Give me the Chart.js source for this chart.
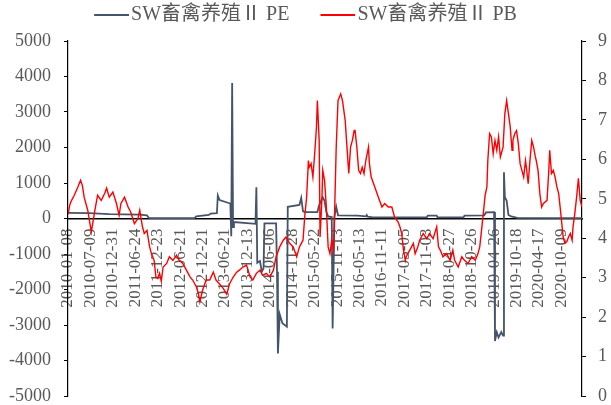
<!DOCTYPE html>
<html>
<head>
<meta charset="utf-8">
<script src="https://cdn.jsdelivr.net/npm/chart.js@4.4.0/dist/chart.umd.min.js"></script>
<style>
  html, body { margin: 0; padding: 0; background: #ffffff; }
  canvas { display: block; }
</style>
</head>
<body>
<canvas id="chart" width="611" height="405"></canvas>
<script>
// Weekly valuation of the SW livestock & poultry breeding II index (2010-01 .. 2021).
// x values are week numbers counted from 2010-01-08; a date label every 25 weeks.
const tickLabels = [
  '2010-01-08', '2010-07-09', '2010-12-31', '2011-06-24', '2011-12-23', '2012-06-21',
  '2012-12-21', '2013-06-21', '2013-12-13', '2014-06-06', '2014-11-28', '2015-05-22',
  '2015-11-13', '2016-05-13', '2016-11-11', '2017-05-05', '2017-11-03', '2018-04-27',
  '2018-10-26', '2019-04-26', '2019-10-18', '2020-04-17', '2020-10-09'
];
const WEEKS_PER_TICK = 25;
const LAST_WEEK = 573;

const seriesNames = ['SW畜禽养殖Ⅱ PE', 'SW畜禽养殖Ⅱ PB'];
const seriesColors = ['#44546A', '#FF0000'];

// PE (left axis)
const peWeeks = [
  0, 24, 46, 80, 88, 90, 93, 141, 143, 157, 159, 166, 167, 169, 180, 181, 182, 183, 184, 185,
  209, 210, 211, 214, 216, 218, 219, 232, 233, 234, 236, 239, 244, 245, 258, 260, 262, 264,
  278, 280, 284, 286, 288, 290, 294, 295, 297, 299, 301, 323, 332, 333, 334, 340, 400, 401,
  411, 412, 441, 442, 464, 466, 475, 476, 478, 480, 483, 485, 486, 487, 489, 491, 494, 501, 573
];
const peValues = [
  158, 150, 125, 110, 90, 20, 10, 10, 60, 100, 140, 150, 650, 520, 430, 420, -500, 3820, -240, -100,
  -150, 880, -1250, -1200, -1500, -1400, -140, -140, -1500, -3800, -2700, -2950, -3050, 330, 380, 580, 200, 180,
  180, 380, 600, 500, 180, 60, 40, -3100, 50, 330, 90, 80, 60, 100, 50, 30, 30, 80,
  80, 30, 30, 80, 90, 170, 180, -3450, -3200, -3350, -3200, -3300, 1300, 600, 500, 100, 60, 20, 10
];

// PB (right axis)
const pbWeeks = [
  0, 2, 4, 7, 11, 14, 16, 18, 22, 26, 30, 33, 37, 41, 43, 46, 50, 54, 57, 59,
  63, 67, 70, 74, 78, 80, 83, 85, 88, 91, 93, 96, 98, 100, 102, 104, 106, 110, 113, 117,
  121, 124, 128, 132, 136, 139, 143, 145, 147, 150, 154, 158, 162, 165, 169, 173, 177, 180, 184, 188,
  191, 195, 199, 203, 206, 210, 214, 217, 221, 225, 229, 232, 236, 240, 243, 247, 251, 255, 258, 262,
  264, 266, 268, 269, 271, 273, 275, 277, 278, 280, 281, 283, 284, 286, 288, 290, 292, 294, 296, 297,
  299, 301, 304, 306, 309, 311, 313, 315, 317, 319, 320, 322, 324, 326, 328, 330, 332, 335, 336, 338,
  342, 346, 350, 353, 357, 361, 364, 368, 370, 372, 374, 376, 377, 381, 385, 387, 390, 392, 396, 400,
  403, 407, 411, 413, 415, 418, 422, 426, 429, 431, 435, 439, 442, 446, 450, 454, 457, 459, 461, 463,
  465, 467, 468, 470, 472, 474, 476, 478, 480, 482, 485, 487, 489, 491, 493, 495, 496, 498, 500, 502,
  504, 506, 508, 510, 511, 513, 515, 517, 519, 521, 522, 524, 526, 528, 530, 534, 536, 537, 539, 541,
  543, 545, 547, 549, 552, 554, 556, 558, 560, 562, 563, 565, 567, 569, 571, 573
];
const pbValues = [
  4.60, 4.85, 4.96, 5.09, 5.30, 5.47, 5.34, 5.04, 4.71, 4.16, 4.71, 5.09, 4.96, 5.14, 5.27, 5.04, 5.17, 4.88, 4.58, 4.88,
  5.04, 4.79, 4.66, 4.37, 4.50, 4.71, 4.29, 4.12, 4.20, 3.78, 3.61, 3.44, 3.02, 2.98, 3.11, 2.91, 3.27, 3.36, 3.53, 3.44,
  3.57, 3.44, 3.36, 3.19, 3.02, 2.94, 2.77, 2.63, 2.38, 2.68, 2.94, 2.94, 3.14, 2.94, 2.84, 2.73, 2.58, 2.84, 3.01, 3.14,
  3.19, 3.27, 3.32, 3.02, 2.94, 3.11, 3.19, 3.06, 3.11, 3.02, 3.19, 3.53, 3.78, 3.95, 4.03, 3.87, 3.78, 3.53, 3.78, 3.95,
  4.58, 5.04, 5.97, 5.80, 5.89, 5.55, 6.14, 6.82, 7.49, 6.48, 4.03, 4.96, 5.72, 5.47, 4.79, 3.78, 3.61, 3.95, 3.70, 4.46,
  6.31, 7.49, 7.66, 7.49, 6.99, 6.31, 5.64, 6.31, 6.48, 6.73, 6.73, 6.31, 5.72, 5.64, 5.80, 5.64, 5.97, 6.31, 5.89, 5.55,
  5.30, 5.04, 4.79, 4.88, 4.79, 4.79, 4.54, 4.41, 4.29, 4.12, 3.70, 3.44, 3.53, 3.70, 3.87, 3.61, 3.78, 3.95, 4.12, 3.99,
  4.12, 3.99, 4.29, 3.78, 3.70, 3.53, 3.61, 3.44, 3.70, 3.44, 3.27, 3.53, 3.44, 3.36, 3.53, 3.44, 3.61, 3.78, 4.20, 4.63,
  5.09, 5.30, 5.97, 6.65, 6.57, 6.14, 6.48, 6.23, 6.57, 6.06, 6.31, 7.16, 7.49, 7.16, 6.82, 6.23, 6.48, 6.65, 6.73, 6.40,
  5.89, 5.72, 5.55, 5.97, 5.80, 5.38, 5.97, 6.48, 6.31, 6.06, 5.97, 5.72, 5.13, 4.79, 4.88, 4.96, 5.72, 6.23, 5.64, 5.72,
  5.55, 5.30, 5.13, 4.71, 4.03, 3.87, 3.91, 4.03, 4.12, 3.95, 4.29, 4.63, 5.04, 5.52, 4.96, 4.79
];

const toPoints = (xs, ys) => xs.map((x, i) => ({ x: x, y: ys[i] }));

const FONT_FAMILY = "'Liberation Serif', 'Noto Sans CJK SC', serif";
const TEXT_GREY = '#595959';

// Legend key: a 35px stroke that starts at the item's left edge and
// runs up to just before its text.
const KEY_BOX = 27, KEY_LINE = 35, LEGEND_FONT = 20;
function makeKey(color) {
  const pad = KEY_BOX / 2;                 // key is centred at x + KEY_BOX/2
  const w = Math.ceil(2 * Math.max(pad, KEY_LINE - pad));
  const c = document.createElement('canvas');
  c.width = w; c.height = 4;
  const g = c.getContext('2d');
  const x0 = w / 2 - pad;
  g.strokeStyle = color; g.lineWidth = 2;
  g.beginPath(); g.moveTo(x0, 2); g.lineTo(x0 + KEY_LINE, 2); g.stroke();
  return c;
}
const keys = seriesColors.map(makeKey);

// Lifts the legend row after layout so the plot keeps its own top edge.
const legendLift = {
  id: 'legendLift',
  afterLayout(chart, args, opts) {
    if (chart.legend) chart.legend.top += opts.dy;
  }
};

new Chart(document.getElementById('chart'), {
  type: 'line',
  data: {
    datasets: [
      {
        label: seriesNames[1],
        data: toPoints(pbWeeks, pbValues),
        yAxisID: 'y1',
        borderColor: seriesColors[1],
        backgroundColor: seriesColors[1],
        borderWidth: 1.4,
        pointRadius: 0,
        tension: 0
      },
      {
        label: seriesNames[0],
        data: toPoints(peWeeks, peValues),
        yAxisID: 'y',
        borderColor: seriesColors[0],
        backgroundColor: seriesColors[0],
        borderWidth: 1.8,
        pointRadius: 0,
        tension: 0
      }
    ]
  },
  options: {
    responsive: false,
    animation: false,
    devicePixelRatio: 1,
    layout: { padding: { top: 0, left: 0, right: 0, bottom: 0 } },
    plugins: {
      tooltip: { enabled: false },
      legend: {
        position: 'top',
        align: 'center',
        maxHeight: 41,
        labels: {
          usePointStyle: true,
          pointStyleWidth: KEY_BOX,
          padding: 31,
          color: TEXT_GREY,
          font: { family: FONT_FAMILY, size: LEGEND_FONT },
          sort: (a, b) => b.datasetIndex - a.datasetIndex,
          generateLabels: (chart) => {
            const items = Chart.defaults.plugins.legend.labels.generateLabels(chart);
            items.forEach((it) => {
              it.pointStyle = it.datasetIndex === 1 ? keys[0] : keys[1];
            });
            return items;
          }
        }
      },
      legendLift: { dy: -26 }
    },
    scales: {
      x: {
        type: 'linear',
        min: 0,
        max: LAST_WEEK,
        position: { y: 0 },
        grid: { display: false, drawTicks: false },
        border: { display: true, color: '#000000', width: 1.6 },
        ticks: {
          stepSize: WEEKS_PER_TICK,
          autoSkip: false,
          includeBounds: false,
          minRotation: 90,
          maxRotation: 90,
          padding: 10,
          color: TEXT_GREY,
          font: { family: FONT_FAMILY, size: 17 },
          callback: (v) => {
            const k = v / WEEKS_PER_TICK;
            return Number.isInteger(k) && tickLabels[k] ? tickLabels[k] : '';
          }
        }
      },
      y: {
        position: 'left',
        min: -5000,
        max: 5000,
        grid: { drawOnChartArea: false, drawTicks: true, tickLength: 4, color: '#000000' },
        border: { display: true, color: '#000000', width: 1.2 },
        ticks: {
          stepSize: 1000,
          padding: 13,
          color: TEXT_GREY,
          font: { family: FONT_FAMILY, size: 18 },
          callback: (v) => String(v)
        },
        afterFit: (s) => { s.width = 68; s.paddingBottom = 9; }
      },
      y1: {
        position: 'right',
        min: 0,
        max: 9,
        grid: { drawOnChartArea: false, drawTicks: true, tickLength: 4, color: '#000000' },
        border: { display: true, color: '#000000', width: 1.2 },
        ticks: {
          stepSize: 1,
          padding: 12,
          color: TEXT_GREY,
          font: { family: FONT_FAMILY, size: 18 },
          callback: (v) => String(v)
        },
        afterFit: (s) => { s.width = 29; s.paddingBottom = 9; }
      }
    }
  },
  plugins: [legendLift]
});
</script>
</body>
</html>
